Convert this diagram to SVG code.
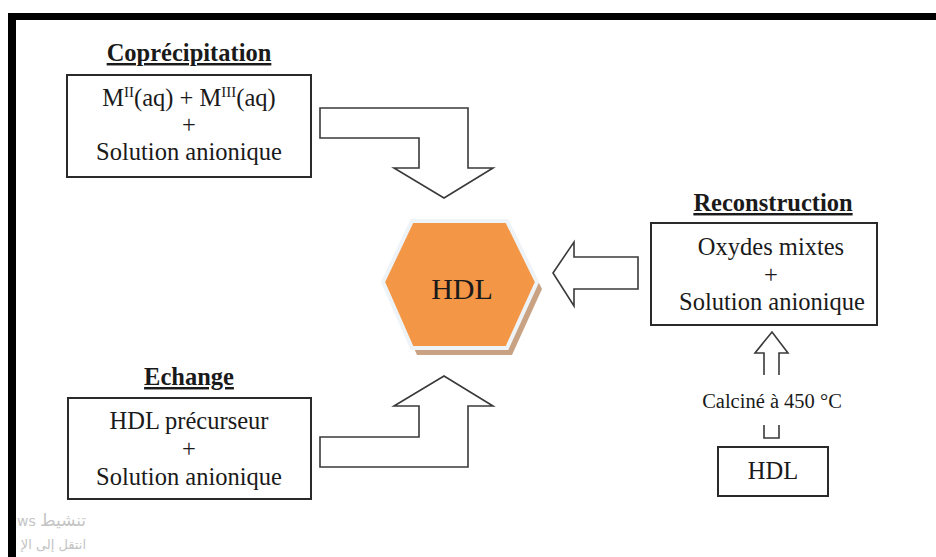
<svg xmlns="http://www.w3.org/2000/svg" width="936" height="557" viewBox="0 0 936 557">
<style>
.t{font-family:"Liberation Serif","Times New Roman",serif;font-size:24.5px;fill:#1a1a1a;text-anchor:middle}
.h{font-weight:bold;text-decoration:underline}
.box{fill:#fff;stroke:#2a2a2a;stroke-width:2}
.arr{fill:#fff;stroke:#3a3a3a;stroke-width:1.6;stroke-linejoin:miter}
.ln{fill:none;stroke:#3a3a3a;stroke-width:1.6}
.wm{font-family:"DejaVu Sans",sans-serif;fill:#c4c4c4}
</style>
<rect width="936" height="557" fill="#fff"/>
<g id="frame">
<rect x="8" y="13" width="928" height="7" fill="#000"/>
<rect x="8" y="13" width="8" height="544" fill="#000"/>
</g>
<g id="coprecipitation">
<text class="t h" x="189" y="61">Coprécipitation</text>
<rect class="box" x="67" y="75" width="244" height="102"/>
<text class="t" x="189" y="106">M<tspan dy="-9" font-size="15">II</tspan><tspan dy="9">(aq) + M</tspan><tspan dy="-9" font-size="15">III</tspan><tspan dy="9">(aq)</tspan></text>
<text class="t" x="189" y="133">+</text>
<text class="t" x="189" y="160">Solution anionique</text>
</g>
<g id="echange">
<text class="t h" x="189" y="385">Echange</text>
<rect class="box" x="68" y="398" width="243" height="101"/>
<text class="t" x="189" y="429">HDL précurseur</text>
<text class="t" x="189" y="457">+</text>
<text class="t" x="189" y="485">Solution anionique</text>
</g>
<g id="hdl-center">
<polygon points="388,289 417,228 512,228 542,289 512,355 417,355" fill="#c9a283"/>
<polygon points="383,282 412,221 507,221 537,282 507,348 412,348" fill="#f39646" stroke="#eef3f7" stroke-width="4"/>
<text class="t" x="462" y="299" style="font-size:30px">HDL</text>
</g>
<g id="reconstruction">
<text class="t h" x="773" y="211">Reconstruction</text>
<rect class="box" x="651" y="223" width="226" height="102"/>
<text class="t" x="771" y="255">Oxydes mixtes</text>
<text class="t" x="771" y="283">+</text>
<text class="t" x="772" y="310">Solution anionique</text>
</g>
<g id="hdl-precursor">
<rect class="box" x="718" y="447" width="110" height="49"/>
<text class="t" x="773" y="479">HDL</text>
</g>
<g id="calcination-label">
<text class="t" x="772" y="408" style="font-size:20.5px">Calciné à 450 °C</text>
</g>
<g id="connectors">
<polygon class="arr" points="320,108 468,108 468,168 493,168 444,198 394,168 419,168 419,138 320,138"/>
<polygon class="arr" points="320,437 419,437 419,406 394,406 444,376 493,406 468,406 468,467 320,467"/>
<polygon class="arr" points="553,273 574,242 574,257 638,257 638,289 574,289 574,306"/>
<polyline class="ln" points="764,375 764,353 755,353 772,332 788,353 779,353 779,375"/>
<polyline class="ln" points="764,425 764,438 779,438 779,425"/>
</g>
<g id="watermark">
<text class="wm" x="17" y="526" style="font-size:14px">ws</text>
<text class="wm" x="86" y="526" text-anchor="end" textLength="46" lengthAdjust="spacingAndGlyphs" style="font-size:17px">تنشيط</text>
<text class="wm" x="86" y="549" text-anchor="end" style="font-size:13px">انتقل إلى الإ</text>
</g>
</svg>
